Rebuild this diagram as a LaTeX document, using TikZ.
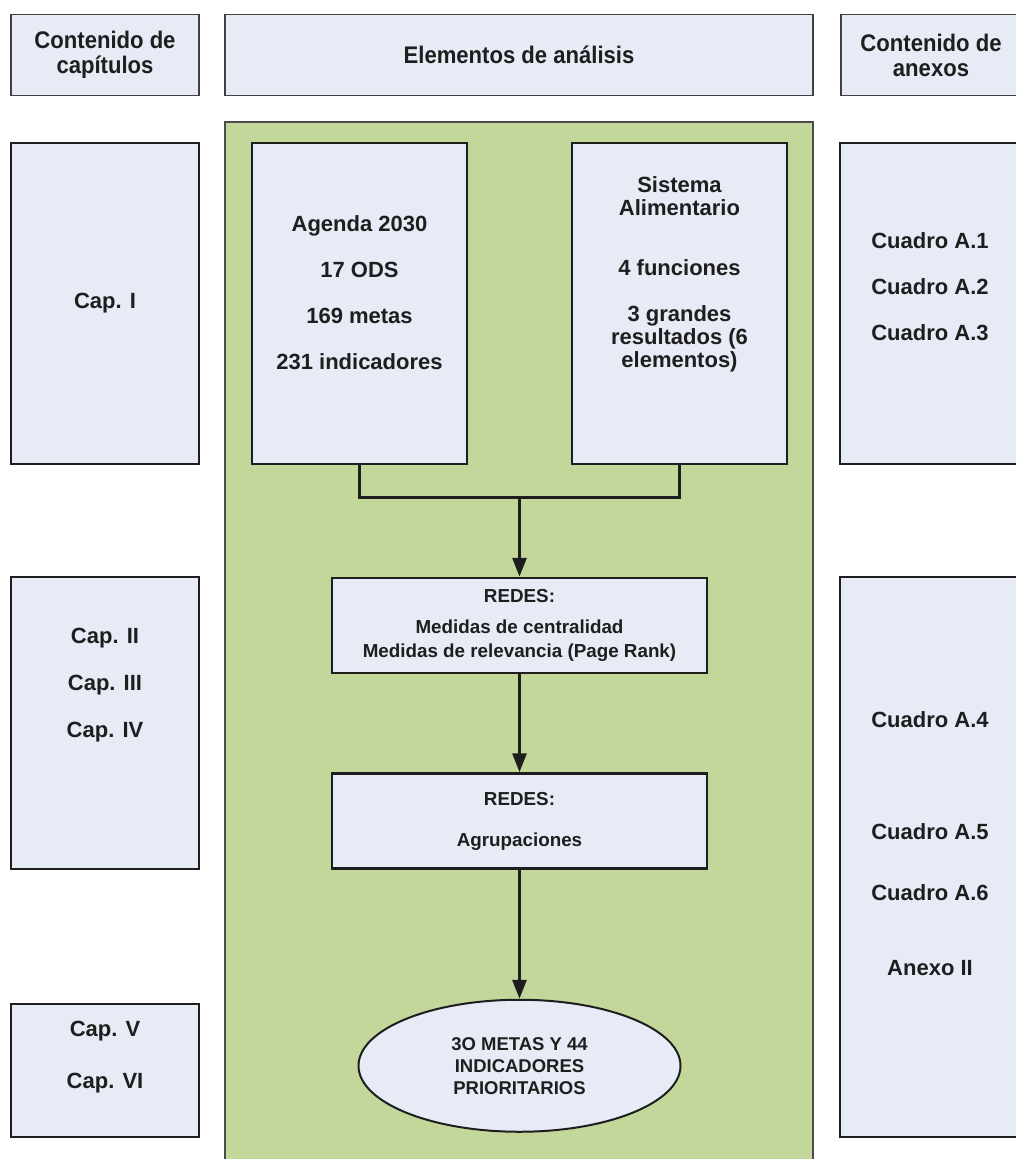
\documentclass[tikz,border=0pt]{standalone}
\usepackage{fontspec}
\setmainfont{Liberation Sans}
\newfontfamily\headfont{Liberation Sans}[FakeStretch=0.92]
\usetikzlibrary{positioning,arrows.meta,shapes.geometric}
\definecolor{boxfill}{HTML}{E6EBF6}
\definecolor{panelgreen}{HTML}{C4D79B}
\definecolor{ink}{HTML}{1E1E1E}
\tikzset{
  headbox/.style={rectangle, draw=ink!85, line width=1.5pt, fill=boxfill, minimum height=81pt, inner sep=0pt, align=center, text=ink, font=\headfont\bfseries\fontsize{24}{25}\selectfont},
  sidebox/.style={rectangle, draw=ink, line width=2.5pt, fill=boxfill, inner sep=0pt},
  boxtext/.style={align=center, text=ink, inner sep=0pt, font=\bfseries\fontsize{22}{23}\selectfont},
  redesbox/.style={rectangle, draw=ink, line width=2.5pt, fill=boxfill, minimum width=375pt, minimum height=95pt, inner sep=0pt, align=center, text=ink, font=\bfseries\fontsize{18.8}{24}\selectfont},
  resultnode/.style={ellipse, draw=ink, line width=2pt, fill=boxfill, minimum width=322pt, minimum height=132pt, inner sep=0pt, align=center, text=ink, font=\bfseries\fontsize{18.5}{22}\selectfont},
  panel/.style={draw=ink!80, line width=1.5pt, fill=panelgreen},
  link/.style={draw=ink, line width=3pt},
  flow/.style={link, -{Triangle[length=19pt,width=14pt]}},
}

\begin{document}
\begin{tikzpicture}[x=1pt,y=-1pt]
  \useasboundingbox (0,0) rectangle (1016,1159);

  % column headings
  \node[headbox, minimum width=188pt] (hcap) at (105,55) {Contenido de\\capítulos};
  \node[headbox, minimum width=588pt] (helem) at (519,55) {Elementos de análisis};
  \node[headbox, minimum width=180pt] (hanx) at (931,55) {Contenido de\\anexos};

  % green panel
  \draw[panel] (225,122) rectangle (813,1180);

  % chapters
  \node[sidebox, minimum width=188pt, minimum height=321pt] (cap1) at (105,303.5) {};
  \node[sidebox, minimum width=188pt, minimum height=292pt] (cap2) at (105,723) {};
  \node[sidebox, minimum width=188pt, minimum height=133pt] (cap5) at (105,1070.5) {};
  \node[boxtext] (cap1txt) at (cap1) {Cap. I};
  \node[boxtext] (cap2txt) at ([yshift=38pt]cap2.center) {Cap. II\\[24pt]Cap. III\\[24pt]Cap. IV};
  \node[boxtext] (cap5txt) at ([yshift=13pt]cap5.center) {Cap. V\\[29pt]Cap. VI};

  % elements of analysis
  \node[sidebox, minimum width=215pt, minimum height=321pt] (agenda) at (359.5,303.5) {};
  \node[sidebox, minimum width=215pt, minimum height=321pt] (sistema) at (679.5,303.5) {};
  \node[boxtext] (agendatxt) at ([yshift=10.5pt]agenda.center) {Agenda 2030\\[23pt]17 ODS\\[23pt]169 metas\\[23pt]231 indicadores};
  \node[boxtext] (sistematxt) at ([yshift=29pt]sistema.center) {Sistema\\Alimentario\\[37pt]4 funciones\\[23pt]3 grandes\\resultados (6\\elementos)};
  \coordinate (join) at (519.5,497);

  \node[redesbox] (redes1) at (519.5,625.5) {REDES:\\[7pt]Medidas de centralidad\\Medidas de relevancia (Page Rank)};
  \node[redesbox, below=98pt of redes1] (redes2) {REDES:\\[17pt]Agrupaciones};
  \node[resultnode, below=129pt of redes2] (result) {3O METAS Y 44\\INDICADORES\\PRIORITARIOS};

  % annexes
  \node[sidebox, minimum width=180pt, minimum height=321pt] (anx1) at (930,303.5) {};
  \node[sidebox, minimum width=180pt, minimum height=560pt] (anx2) at (930,857) {};
  \node[boxtext] (anx1txt) at ([yshift=16.5pt]anx1.center) {Cuadro A.1\\[23pt]Cuadro A.2\\[23pt]Cuadro A.3};
  \node[boxtext] (anx2txt) at ([yshift=13pt]anx2.center) {Cuadro A.4\\[89pt]Cuadro A.5\\[38pt]Cuadro A.6\\[52pt]Anexo II};

  \draw[link] (agenda.south) |- (join) -| (sistema.south);
  \draw[flow] (join) -- (redes1.north);
  \draw[flow] (redes1) -- (redes2);
  \draw[flow] (redes2) -- (result);
\end{tikzpicture}
\end{document}
